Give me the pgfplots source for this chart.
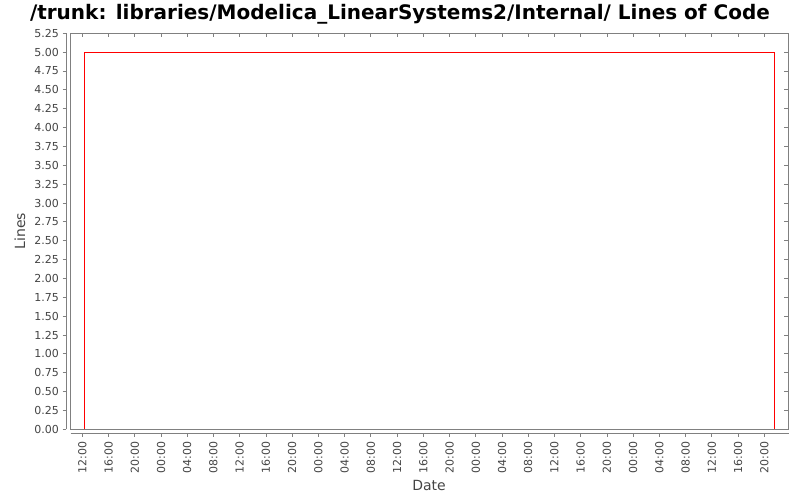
\documentclass[border=0pt]{standalone}
\usepackage{pgfplots}
\pgfplotsset{compat=1.18}
\usepackage{fontspec}
\setmainfont{DejaVu Sans}
\definecolor{axgray}{RGB}{128,128,128}
\definecolor{lblgray}{RGB}{68,68,68}
\begin{document}
\begin{tikzpicture}
\path[use as bounding box] (0,0) rectangle (800pt,500pt);
\begin{axis}[
    at={(70.7pt,70.7pt)}, anchor=south west,
    scale only axis, width=718pt, height=396pt,
    xmin=10.23, xmax=119.72,
    ymin=0, ymax=5.25,
    axis line style={axgray, line width=0.8pt},
    tick align=outside,
    major tick length=3.6pt,
    ytick style={axgray, line width=0.8pt, xshift=-4.4pt},
    xtick style={axgray, line width=0.8pt, yshift=-3.7pt},
    xtick={12,16,20,24,28,32,36,40,44,48,52,56,60,64,68,72,76,80,84,88,92,96,100,104,108,112,116},
    xticklabels={12:00,16:00,20:00,00:00,04:00,08:00,12:00,16:00,20:00,00:00,04:00,08:00,12:00,16:00,20:00,00:00,04:00,08:00,12:00,16:00,20:00,00:00,04:00,08:00,12:00,16:00,20:00},
    ytick={0,0.25,0.5,0.75,1,1.25,1.5,1.75,2,2.25,2.5,2.75,3,3.25,3.5,3.75,4,4.25,4.5,4.75,5,5.25},
    yticklabels={0.00,0.25,0.50,0.75,1.00,1.25,1.50,1.75,2.00,2.25,2.50,2.75,3.00,3.25,3.50,3.75,4.00,4.25,4.50,4.75,5.00,5.25},
    ticklabel style={font=\fontsize{11}{13}\selectfont, text=lblgray, inner sep=0pt},
    yticklabel style={anchor=east, xshift=-8.1pt},
    xticklabel style={yshift=-8.7pt, rotate=90, anchor=east},
]
\addplot[red, line width=0.9pt] coordinates {(12.3,0) (12.3,5) (117.6,5) (117.6,0)};
\end{axis}
\draw[axgray, line width=0.8pt] (66.3pt,70.7pt) -- (66.3pt,466.7pt);
\draw[axgray, line width=0.8pt] (70.7pt,67pt) -- (788.7pt,67pt);
\node[font=\bfseries\fontsize{20}{24}\selectfont] at (400pt,485.5pt) {/trunk: libraries/Modelica\_LinearSystems2/Internal/ Lines of Code};
\node[rotate=90, font=\fontsize{14}{16}\selectfont, text=lblgray] at (20pt,269pt) {Lines};
\node[font=\fontsize{14}{16}\selectfont, text=lblgray] at (429pt,15pt) {Date};
\end{tikzpicture}
\end{document}
